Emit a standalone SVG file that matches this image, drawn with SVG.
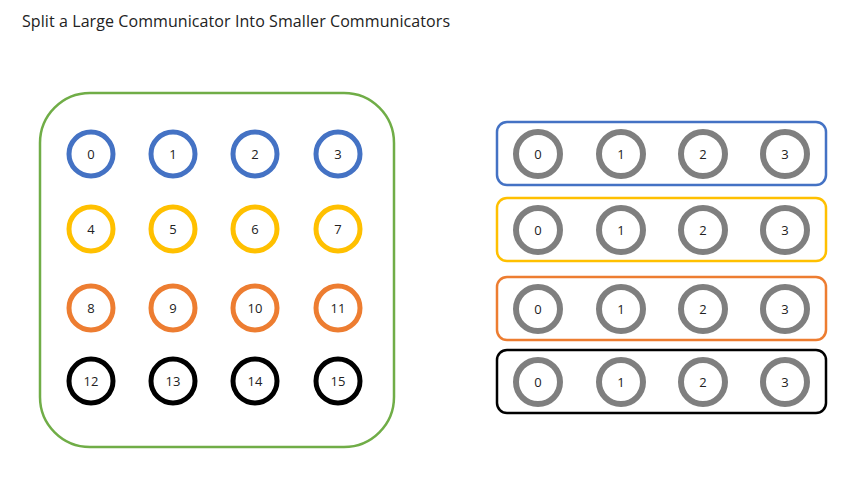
<svg xmlns="http://www.w3.org/2000/svg" width="862" height="481" viewBox="0 0 862 481">
<style>
text{font-family:"Open Sans","Liberation Sans",sans-serif;fill:#222}
.t{font-size:16px}
.n{font-size:13px;text-anchor:middle;dominant-baseline:central}
.c{fill:#fff;stroke-width:5}
.b{stroke:#4472C4}.y{stroke:#FFC000}.o{stroke:#ED7D31}.k{stroke:#000}.g{stroke:#7F7F7F;stroke-width:6}
.box{fill:none;stroke-width:2.5}
</style>
<rect width="862" height="481" fill="#fff"/>
<text class="t" x="22" y="27" textLength="428">Split a Large Communicator Into Smaller Communicators</text>
<g id="world">
<rect class="box" x="40" y="93" width="354" height="354" rx="50" stroke="#70AD47"/>
</g>
<g id="r0"><circle class="c b" cx="91" cy="154" r="22"/><text class="n" x="91" y="154">0</text></g>
<g id="r1"><circle class="c b" cx="173" cy="154" r="22"/><text class="n" x="173" y="154">1</text></g>
<g id="r2"><circle class="c b" cx="255" cy="154" r="22"/><text class="n" x="255" y="154">2</text></g>
<g id="r3"><circle class="c b" cx="338" cy="154" r="22"/><text class="n" x="338" y="154">3</text></g>
<g id="r4"><circle class="c y" cx="91" cy="229" r="22"/><text class="n" x="91" y="229">4</text></g>
<g id="r5"><circle class="c y" cx="173" cy="229" r="22"/><text class="n" x="173" y="229">5</text></g>
<g id="r6"><circle class="c y" cx="255" cy="229" r="22"/><text class="n" x="255" y="229">6</text></g>
<g id="r7"><circle class="c y" cx="338" cy="229" r="22"/><text class="n" x="338" y="229">7</text></g>
<g id="r8"><circle class="c o" cx="91" cy="308" r="22"/><text class="n" x="91" y="308">8</text></g>
<g id="r9"><circle class="c o" cx="173" cy="308" r="22"/><text class="n" x="173" y="308">9</text></g>
<g id="r10"><circle class="c o" cx="255" cy="308" r="22"/><text class="n" x="255" y="308">10</text></g>
<g id="r11"><circle class="c o" cx="338" cy="308" r="22"/><text class="n" x="338" y="308">11</text></g>
<g id="r12"><circle class="c k" cx="91" cy="381" r="22"/><text class="n" x="91" y="381">12</text></g>
<g id="r13"><circle class="c k" cx="173" cy="381" r="22"/><text class="n" x="173" y="381">13</text></g>
<g id="r14"><circle class="c k" cx="255" cy="381" r="22"/><text class="n" x="255" y="381">14</text></g>
<g id="r15"><circle class="c k" cx="338" cy="381" r="22"/><text class="n" x="338" y="381">15</text></g>

<g id="comm-blue">
<rect class="box" x="497" y="122" width="329" height="63" rx="10" stroke="#4472C4"/>
<circle class="c g" cx="538" cy="154" r="22"/><text class="n" x="538" y="154">0</text>
<circle class="c g" cx="621" cy="154" r="22"/><text class="n" x="621" y="154">1</text>
<circle class="c g" cx="703" cy="154" r="22"/><text class="n" x="703" y="154">2</text>
<circle class="c g" cx="785" cy="154" r="22"/><text class="n" x="785" y="154">3</text>
</g>
<g id="comm-yellow">
<rect class="box" x="497" y="198" width="329" height="63" rx="10" stroke="#FFC000"/>
<circle class="c g" cx="538" cy="230" r="22"/><text class="n" x="538" y="230">0</text>
<circle class="c g" cx="621" cy="230" r="22"/><text class="n" x="621" y="230">1</text>
<circle class="c g" cx="703" cy="230" r="22"/><text class="n" x="703" y="230">2</text>
<circle class="c g" cx="785" cy="230" r="22"/><text class="n" x="785" y="230">3</text>
</g>
<g id="comm-orange">
<rect class="box" x="497" y="277" width="329" height="63" rx="10" stroke="#ED7D31"/>
<circle class="c g" cx="538" cy="309" r="22"/><text class="n" x="538" y="309">0</text>
<circle class="c g" cx="621" cy="309" r="22"/><text class="n" x="621" y="309">1</text>
<circle class="c g" cx="703" cy="309" r="22"/><text class="n" x="703" y="309">2</text>
<circle class="c g" cx="785" cy="309" r="22"/><text class="n" x="785" y="309">3</text>
</g>
<g id="comm-black">
<rect class="box" x="497" y="350" width="329" height="63" rx="10" stroke="#000"/>
<circle class="c g" cx="538" cy="382" r="22"/><text class="n" x="538" y="382">0</text>
<circle class="c g" cx="621" cy="382" r="22"/><text class="n" x="621" y="382">1</text>
<circle class="c g" cx="703" cy="382" r="22"/><text class="n" x="703" y="382">2</text>
<circle class="c g" cx="785" cy="382" r="22"/><text class="n" x="785" y="382">3</text>
</g>
<g id="connectors"/>
</svg>
